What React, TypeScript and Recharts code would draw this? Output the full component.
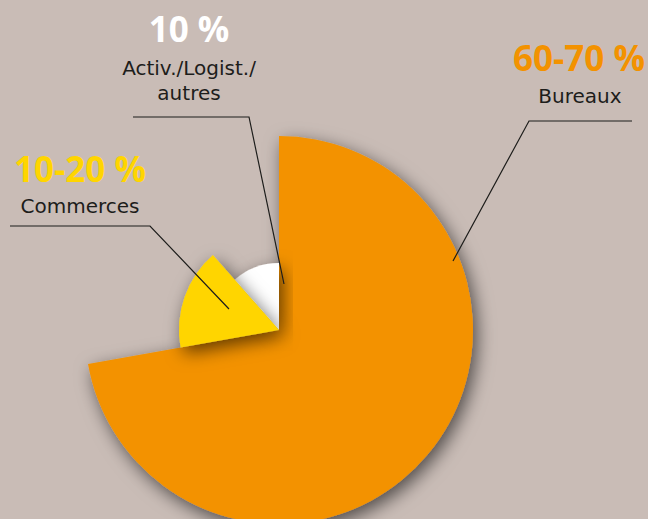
import React from 'react';
import { PieChart, Pie, Cell } from 'recharts';

// Répartition par type d'actif
const sectors = ['Bureaux', 'Commerces', 'Activ./Logist./autres'];
const shares = [72.2, 16.3, 11.5];
const shareLabels = ['60-70 %', '10-20 %', '10 %'];

const COLORS = ['#f39200', '#ffd500', '#ffffff'];
const RADII = [194, 100, 67];
const BG = '#c9bcb6';
const INK = '#1d1d1b';

const CX = 279;
const CY = 330;

const data = sectors.map((name, i) => ({ name, value: shares[i] }));

// one pie per radius, only one visible slice in each
const OneSlice = ({ idx }: { idx: number }) => (
    <Pie
        data={data}
        dataKey="value"
        nameKey="name"
        cx={CX}
        cy={CY}
        innerRadius={0}
        outerRadius={RADII[idx]}
        startAngle={90}
        endAngle={-270}
        stroke="none"
        isAnimationActive={false}
    >
        {data.map((d, i) => (
            <Cell
                key={d.name}
                fill={i === idx ? COLORS[idx] : 'transparent'}
                style={i === idx ? { filter: 'url(#sliceShadow)' } : undefined}
            />
        ))}
    </Pie>
);

const labelFont = '"DejaVu Sans", sans-serif';
const numFont = '"Open Sans", sans-serif';

const App: React.FC = () => {
    return (
        <div style={{ position: 'fixed', left: 0, top: 0, width: 648, height: 519, background: BG, overflow: 'hidden' }}>
            <svg width={0} height={0} style={{ position: 'absolute' }}>
                <defs>
                    <filter id="sliceShadow" x="-30%" y="-30%" width="160%" height="160%">
                        <feDropShadow dx={4} dy={6} stdDeviation={9} floodColor="#000" floodOpacity={0.6} />
                    </filter>
                </defs>
            </svg>
            <PieChart width={648} height={519} margin={{ top: 0, right: 0, bottom: 0, left: 0 }}>
                <OneSlice idx={0} />
                <OneSlice idx={2} />
                <OneSlice idx={1} />
            </PieChart>
            <svg width={648} height={519} style={{ position: 'absolute', left: 0, top: 0, pointerEvents: 'none' }}>
                {/* Bureaux */}
                <polyline points="632,121 529,121 453,261" fill="none" stroke={INK} strokeWidth={1.2} />
                <text x={579} y={71} textAnchor="middle" fontFamily={numFont} fontWeight={700} fontSize={35} fill={COLORS[0]}>{shareLabels[0]}</text>
                <text x={580} y={103} textAnchor="middle" fontFamily={labelFont} fontSize={20} fill={INK}>{sectors[0]}</text>

                {/* Commerces */}
                <polyline points="10,226 150,226 229,309" fill="none" stroke={INK} strokeWidth={1.2} />
                <text x={80} y={182} textAnchor="middle" fontFamily={numFont} fontWeight={700} fontSize={35} fill={COLORS[1]}>{shareLabels[1]}</text>
                <text x={80} y={213} textAnchor="middle" fontFamily={labelFont} fontSize={20} fill={INK}>{sectors[1]}</text>

                {/* Activ./Logist./autres */}
                <polyline points="133,117 249,117 284,284" fill="none" stroke={INK} strokeWidth={1.2} />
                <text x={189} y={42} textAnchor="middle" fontFamily={numFont} fontWeight={700} fontSize={35} fill="#ffffff">{shareLabels[2]}</text>
                <text x={189} y={75} textAnchor="middle" fontFamily={labelFont} fontSize={20} fill={INK}>Activ./Logist./</text>
                <text x={189} y={100} textAnchor="middle" fontFamily={labelFont} fontSize={20} fill={INK}>autres</text>
            </svg>
        </div>
    );
};

export default App;
